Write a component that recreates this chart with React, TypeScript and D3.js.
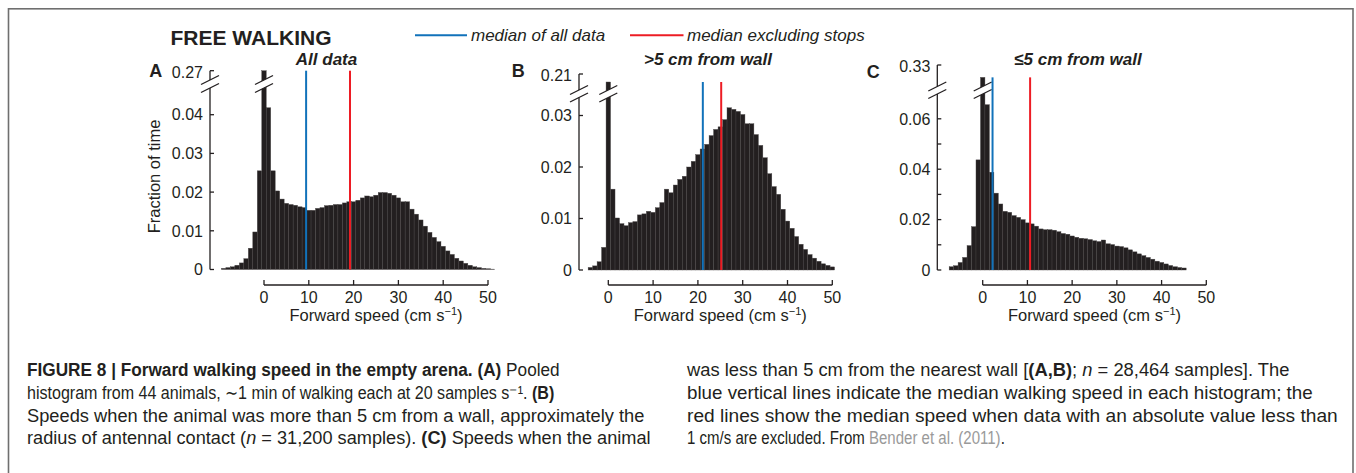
import * as d3 from "d3";
import { useRef, useLayoutEffect } from "react";

// fraction of time per 1 cm/s bin
const binStartA = -9;
const fractionA = [
  0.0003, 0.0005, 0.0007, 0.0011, 0.0017, 0.0028, 0.0055, 0.0097, 0.0255, 0.27,
  0.0418, 0.0255, 0.0203, 0.0182, 0.0171, 0.0168, 0.0166, 0.0162, 0.016, 0.0153,
  0.0153, 0.0158, 0.016, 0.0165, 0.0166, 0.0168, 0.0168, 0.0172, 0.0175, 0.0175,
  0.0179, 0.0185, 0.019, 0.0188, 0.0192, 0.0199, 0.0199, 0.0197, 0.0192, 0.0185,
  0.0175, 0.0175, 0.0156, 0.0143, 0.0128, 0.0112, 0.0096, 0.0083, 0.0072, 0.006,
  0.0048, 0.0039, 0.0029, 0.0022, 0.0016, 0.0011, 0.0007, 0.0005, 0.0003, 0.0002,
  0.0001,
];
const binStartB = -4;
const fractionB = [
  0.0005, 0.0008, 0.0016, 0.0044, 0.19, 0.0157, 0.0101, 0.009, 0.0086, 0.0092,
  0.0094, 0.0107, 0.0109, 0.0114, 0.0112, 0.0121, 0.0131, 0.0157, 0.015, 0.0165,
  0.0176, 0.0182, 0.02, 0.0211, 0.0224, 0.0235, 0.0244, 0.0261, 0.0273, 0.0278,
  0.0292, 0.0315, 0.0312, 0.0308, 0.0302, 0.0284, 0.0284, 0.0263, 0.0242, 0.0218,
  0.0187, 0.0162, 0.0147, 0.0118, 0.0095, 0.0081, 0.0065, 0.005, 0.004, 0.003,
  0.0023, 0.0017, 0.0012, 0.0009, 0.0006,
];
const binStartC = -7;
const fractionC = [
  0.0013, 0.0017, 0.003, 0.005, 0.0097, 0.0172, 0.0437, 0.307, 0.0656, 0.0388,
  0.0305, 0.0262, 0.0233, 0.0229, 0.0216, 0.0209, 0.02, 0.0187, 0.0183, 0.0174,
  0.0163, 0.016, 0.016, 0.0158, 0.0152, 0.0145, 0.0142, 0.0135, 0.013, 0.0126,
  0.0124, 0.0121, 0.0116, 0.0113, 0.0119, 0.0104, 0.0101, 0.0095, 0.0093, 0.0088,
  0.008, 0.0072, 0.0064, 0.0057, 0.005, 0.0043, 0.0035, 0.003, 0.0024, 0.0018,
  0.0013, 0.001, 0.0008,
];

const medianAll = [9.4, 21.1, 2.2];
const medianMoving = [19.2, 25.2, 10.6];
const panelLetters = ["A", "B", "C"];
const panelTitles = ["All data", ">5 cm from wall", "≤5 cm from wall"];
const breakTicks = [0.27, 0.21, 0.33];
const yTicksA = [0, 0.01, 0.02, 0.03, 0.04];
const yTicksB = [0, 0.01, 0.02, 0.03];
const yTicksC = [0, 0.01, 0.02, 0.03, 0.04, 0.05, 0.06];
const yLabelsC = [0, 0.02, 0.04, 0.06];
const xTicks = [0, 10, 20, 30, 40, 50];
const legendLabels = ["median of all data", "median excluding stops"];

const INK = "#231f20";
const BLUE = "#1172ba";
const RED = "#ed1c24";
const FONT = "'Liberation Sans', Arial, Helvetica, sans-serif";

const fmt = (v) => (v === 0 ? "0" : d3.format(".2f")(v));

function Panel({
  start, values, medAll, medMov, letter, title, topTick, yTicks, yLabels,
  axisX, x0, x50, y0, lowMax, yLowTop, yTop, slashUp, slashLo, upLo,
  letterX, letterY, titleX, showYLabel,
}) {
  const x = d3.scaleLinear([0, 50], [x0, x50]);
  const yLow = d3.scaleLinear([0, lowMax], [y0, yLowTop]);
  const yUp = d3.scaleLinear([upLo, topTick], [slashUp, yTop]);
  const yOf = (v) => (v > lowMax ? yUp(v) : yLow(v));
  const peak = d3.max(values);
  const peakCenter = start + values.indexOf(peak);
  const peakTop = yUp(peak);
  const xAxisY = 285;

  const slash = (cx, cy) => `M${cx - 9},${cy + 4.5}L${cx + 9},${cy - 4.5}`;
  const band = (cx) =>
    `M${cx - 9},${slashUp + 4.5}L${cx + 9},${slashUp - 4.5}L${cx + 9},${slashLo - 4.5}L${cx - 9},${slashLo + 4.5}Z`;
  const px = x(peakCenter);

  return (
    <g fontFamily={FONT} fill={INK}>
      {/* bars */}
      <g fill={INK} stroke="#4a4647" strokeWidth={0.4}>
        {values.map((v, i) => {
          const c = start + i;
          const top = yOf(v);
          return (
            <rect key={i} x={x(c - 0.5)} width={x(c + 0.5) - x(c - 0.5)} y={top} height={y0 - top} />
          );
        })}
      </g>
      {/* break on the peak bar */}
      <path d={band(px)} fill="#fff" stroke="none" />
      <g stroke={INK} strokeWidth={1.3} fill="none">
        <path d={slash(px, slashUp)} />
        <path d={slash(px, slashLo)} />
        {/* y axis with break */}
        <line x1={axisX} x2={axisX} y1={y0} y2={slashLo} />
        <line x1={axisX} x2={axisX} y1={slashUp} y2={yTop} />
        <path d={slash(axisX, slashUp)} />
        <path d={slash(axisX, slashLo)} />
        {yTicks.map((t) => (
          <line key={t} x1={axisX} x2={axisX + 4} y1={yLow(t)} y2={yLow(t)} />
        ))}
        <line x1={axisX} x2={axisX + 4} y1={yTop} y2={yTop} />
        {/* x axis */}
        <line x1={x(0)} x2={x(50)} y1={xAxisY} y2={xAxisY} />
        {xTicks.map((t) => (
          <line key={t} x1={x(t)} x2={x(t)} y1={xAxisY} y2={xAxisY - 5} />
        ))}
      </g>
      {/* medians */}
      <line x1={x(medAll)} x2={x(medAll)} y1={y0} y2={peakTop} stroke={BLUE} strokeWidth={2} />
      <line x1={x(medMov)} x2={x(medMov)} y1={y0} y2={peakTop} stroke={RED} strokeWidth={2} />
      {/* tick labels */}
      <g fontSize={16} textAnchor="end">
        {yLabels.map((t) => (
          <text key={t} x={axisX - 7} y={yLow(t)} dy="0.36em">{fmt(t)}</text>
        ))}
        <text x={axisX - 7} y={yTop} dy="0.45em">{fmt(topTick)}</text>
      </g>
      <g fontSize={16} textAnchor="middle">
        {xTicks.map((t) => (
          <text key={t} x={x(t)} y={303}>{t}</text>
        ))}
      </g>
      <text x={(x(0) + x(50)) / 2} y={320.5} fontSize={16.5} textAnchor="middle">
        <tspan>Forward speed (cm s</tspan>
        <tspan dy={-6} fontSize={11}>−1</tspan>
        <tspan dy={6}>)</tspan>
      </text>
      {showYLabel && (
        <text transform={`translate(160,176.5) rotate(-90)`} fontSize={16.5} textAnchor="middle">
          Fraction of time
        </text>
      )}
      <text x={letterX} y={letterY} fontSize={18} fontWeight="bold">{letter}</text>
      <text x={titleX} y={65} fontSize={17} fontWeight="bold" fontStyle="italic" textAnchor="middle">
        {title}
      </text>
    </g>
  );
}

// a caption line squeezed/stretched horizontally to the width it has in the figure
function FitLine({ x, y, width, children }) {
  const ref = useRef(null);
  useLayoutEffect(() => {
    const el = ref.current;
    const w = el.getComputedTextLength();
    if (w > 0) el.setAttribute("transform", `translate(${x},${y}) scale(${width / w},1)`);
  }, [x, y, width]);
  return (
    <text ref={ref} transform={`translate(${x},${y})`} fontFamily={FONT} fontSize={18.5} fill={INK}>
      {children}
    </text>
  );
}

function Caption() {
  const lx = 27;
  const rx = 687;
  const ys = [376, 399.3, 421.8, 444.3];
  return (
    <g>
      <FitLine x={lx} y={ys[0]} width={533}>
        <tspan fontWeight="bold">{"FIGURE 8 | Forward walking speed in the empty arena. (A)"}</tspan>
        {" Pooled"}
      </FitLine>
      <FitLine x={lx} y={ys[1]} width={529}>
        {"histogram from 44 animals, ∼1 min of walking each at 20 samples s⁻¹. "}
        <tspan fontWeight="bold">(B)</tspan>
      </FitLine>
      <FitLine x={lx} y={ys[2]} width={618}>
        {"Speeds when the animal was more than 5 cm from a wall, approximately the"}
      </FitLine>
      <FitLine x={lx} y={ys[3]} width={624}>
        {"radius of antennal contact ("}
        <tspan fontStyle="italic">n</tspan>
        {" = 31,200 samples). "}
        <tspan fontWeight="bold">(C)</tspan>
        {" Speeds when the animal"}
      </FitLine>
      <FitLine x={rx} y={ys[0]} width={603}>
        {"was less than 5 cm from the nearest wall ["}
        <tspan fontWeight="bold">(A,B)</tspan>
        {"; "}
        <tspan fontStyle="italic">n</tspan>
        {" = 28,464 samples]. The"}
      </FitLine>
      <FitLine x={rx} y={ys[1]} width={626}>
        {"blue vertical lines indicate the median walking speed in each histogram; the"}
      </FitLine>
      <FitLine x={rx} y={ys[2]} width={651}>
        {"red lines show the median speed when data with an absolute value less than"}
      </FitLine>
      <FitLine x={rx} y={ys[3]} width={318}>
        {"1 cm/s are excluded. From "}
        <tspan fill="#9a9a9a">Bender et al. (2011)</tspan>
        {"."}
      </FitLine>
    </g>
  );
}

export default function App() {
  return (
    <div style={{ position: "absolute", left: 0, top: 0 }}>
      <svg width={1356} height={473} style={{ display: "block", background: "#fff" }}>
        <rect x={8.5} y={8.8} width={1344.5} height={600} fill="none" stroke="#6f6f6f" strokeWidth={1.6} />
        <text x={170.5} y={45} fontFamily={FONT} fontSize={21} fontWeight="bold" fill={INK}>
          FREE WALKING
        </text>
        {/* legend */}
        <g fontFamily={FONT} fontSize={17} fontStyle="italic" fill={INK}>
          <line x1={415} x2={467} y1={35.3} y2={35.3} stroke={BLUE} strokeWidth={2} />
          <text x={471} y={40.8}>{legendLabels[0]}</text>
          <line x1={630} x2={683.5} y1={35.3} y2={35.3} stroke={RED} strokeWidth={2} />
          <text x={687} y={40.8}>{legendLabels[1]}</text>
        </g>
        <Panel
          start={binStartA} values={fractionA} medAll={medianAll[0]} medMov={medianMoving[0]}
          letter={panelLetters[0]} title={panelTitles[0]} topTick={breakTicks[0]}
          yTicks={yTicksA} yLabels={yTicksA}
          axisX={210} x0={264} x50={488} y0={269.5} lowMax={0.045} yLowTop={269.5 - 0.045 * 3870}
          yTop={70.7} slashUp={80} slashLo={88} upLo={0.25}
          letterX={149.3} letterY={77.3} titleX={326.5} showYLabel
        />
        <Panel
          start={binStartB} values={fractionB} medAll={medianAll[1]} medMov={medianMoving[1]}
          letter={panelLetters[1]} title={panelTitles[1]} topTick={breakTicks[1]}
          yTicks={yTicksB} yLabels={yTicksB}
          axisX={579} x0={608.3} x50={832.3} y0={270} lowMax={0.0335} yLowTop={270 - 0.0335 * 5150}
          yTop={74} slashUp={90} slashLo={97.5} upLo={0.17}
          letterX={511.7} letterY={76.7} titleX={708} showYLabel={false}
        />
        <Panel
          start={binStartC} values={fractionC} medAll={medianAll[2]} medMov={medianMoving[2]}
          letter={panelLetters[2]} title={panelTitles[2]} topTick={breakTicks[2]}
          yTicks={yTicksC} yLabels={yLabelsC}
          axisX={937.3} x0={982.7} x50={1206.3} y0={270} lowMax={0.068} yLowTop={270 - 0.068 * 2520}
          yTop={65} slashUp={86.5} slashLo={94} upLo={0.29}
          letterX={866.7} letterY={78} titleX={1078} showYLabel={false}
        />
        <Caption />
      </svg>
    </div>
  );
}
